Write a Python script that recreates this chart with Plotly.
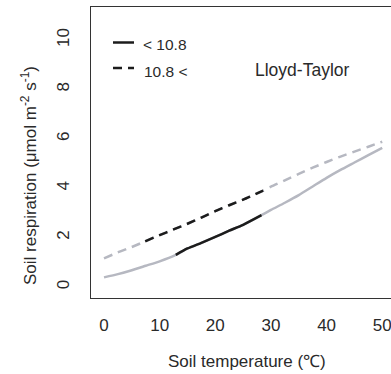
import numpy as np
import plotly.graph_objects as go

# Lloyd-Taylor fits of soil respiration against soil temperature
solid_temp = [0, 2.5, 5, 7.5, 10, 12.9, 15, 17.5, 20, 22.5, 25, 28.3, 30, 32.5, 35, 37.5, 40, 42.5, 45, 47.5, 50]
solid_resp = [0.39, 0.52, 0.68, 0.86, 1.04, 1.30, 1.56, 1.79, 2.03, 2.28, 2.52, 2.91, 3.12, 3.41, 3.72, 4.07, 4.42, 4.74, 5.04, 5.34, 5.63]

dashed_temp = [0, 2.5, 5, 7.4, 10, 12.5, 15, 17.5, 20, 22.5, 25, 28.6, 30, 32.5, 35, 37.5, 40, 42.5, 45, 47.5, 50]
dashed_resp = [1.16, 1.40, 1.62, 1.85, 2.10, 2.33, 2.56, 2.81, 3.07, 3.31, 3.54, 3.90, 4.06, 4.32, 4.58, 4.83, 5.06, 5.28, 5.48, 5.68, 5.88]

# observed temperature span of each group (drawn in black)
solid_obs = (12.9, 28.3)
dashed_obs = (7.4, 28.6)

legend_labels = ["< 10.8", "10.8 <"]
model_name = "Lloyd-Taylor"

x_ticks = [0, 10, 20, 30, 40, 50]
y_ticks = [0, 2, 4, 6, 8, 10]

GREY = "#b6b8c1"
BLACK = "#1c1c1c"
TEXT = "#2a2a2a"
FONT = "Liberation Sans, Arial, Helvetica, sans-serif"
DASH = "9px,6px"
LW = 2.5

W, H = 391, 374
ML, MR, MT, MB = 91, 0, 7, 76


def px(xp):
    return (xp - ML) / (W - ML - MR)


def py(yp):
    return (H - MB - yp) / (H - MT - MB)


def segment(t, r, lo, hi):
    t = np.asarray(t)
    r = np.asarray(r)
    m = (t >= lo) & (t <= hi)
    return t[m], r[m]


fig = go.Figure()

fig.add_trace(go.Scatter(x=solid_temp, y=solid_resp, mode="lines",
                         line=dict(color=GREY, width=LW, shape="spline", smoothing=0.6), showlegend=False))
fig.add_trace(go.Scatter(x=dashed_temp, y=dashed_resp, mode="lines",
                         line=dict(color=GREY, width=LW, dash=DASH, shape="spline", smoothing=0.6),
                         showlegend=False))

st, sr = segment(solid_temp, solid_resp, *solid_obs)
dt, dr = segment(dashed_temp, dashed_resp, *dashed_obs)
fig.add_trace(go.Scatter(x=st, y=sr, mode="lines",
                         line=dict(color=BLACK, width=LW, shape="spline", smoothing=0.6), showlegend=False))
fig.add_trace(go.Scatter(x=dt, y=dr, mode="lines",
                         line=dict(color=BLACK, width=LW, dash=DASH, shape="spline", smoothing=0.6),
                         showlegend=False))

shapes = [
    # legend keys
    dict(type="line", xref="paper", yref="paper", x0=px(113), x1=px(134), y0=py(42.5), y1=py(42.5),
         line=dict(color=BLACK, width=LW)),
    dict(type="line", xref="paper", yref="paper", x0=px(113), x1=px(134), y0=py(68), y1=py(68),
         line=dict(color=BLACK, width=LW, dash=DASH)),
]

annotations = [
    dict(text=legend_labels[0], xref="paper", yref="paper", x=px(141), y=py(45),
         xanchor="left", yanchor="middle", showarrow=False, font=dict(size=15.5, color=TEXT, family=FONT)),
    dict(text=legend_labels[1], xref="paper", yref="paper", x=px(142), y=py(71),
         xanchor="left", yanchor="middle", showarrow=False, font=dict(size=15.5, color=TEXT, family=FONT)),
    dict(text=model_name, xref="paper", yref="paper", x=px(253), y=py(70),
         xanchor="left", yanchor="middle", showarrow=False, font=dict(size=17.5, color=TEXT, family=FONT)),
    dict(text="Soil temperature (\u2103)", xref="paper", yref="paper", x=px(247), y=py(361),
         xanchor="center", yanchor="middle", showarrow=False, font=dict(size=17, color=TEXT, family=FONT)),
    dict(text="Soil respiration (\u03bcmol m<sup>-2</sup> s<sup>-1</sup>)", xref="paper", yref="paper",
         x=px(29), y=py(176), textangle=-90,
         xanchor="center", yanchor="middle", showarrow=False, font=dict(size=17, color=TEXT, family=FONT)),
]

fig.update_layout(
    width=W, height=H,
    margin=dict(l=ML, r=MR, t=MT, b=MB),
    paper_bgcolor="white", plot_bgcolor="white",
    font=dict(family=FONT, size=17, color=TEXT),
    shapes=shapes, annotations=annotations,
    showlegend=False,
)

fig.update_xaxes(range=[-13 / 5.565, 287 / 5.565], tickvals=x_ticks, ticks="", ticklabelstandoff=11,
                 ticklabeloverflow="allow",
                 showgrid=False, zeroline=False, showline=True, linecolor="#333333", linewidth=1.3,
                 mirror=True, tickfont=dict(size=17, color=TEXT))
fig.update_yaxes(range=[-11 / 24.7, 280 / 24.7], tickvals=y_ticks, ticks="", ticklabelstandoff=14,
                 ticklabeloverflow="allow",
                 tickangle=-90, showgrid=False, zeroline=False, showline=True, linecolor="#333333",
                 linewidth=1.3, mirror=False, tickfont=dict(size=17, color=TEXT))

fig.write_html("out.html")
